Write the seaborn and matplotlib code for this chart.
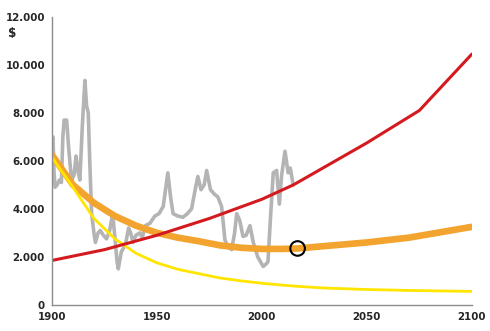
import matplotlib
matplotlib.use("Agg")
import matplotlib.pyplot as plt
import matplotlib.ticker as mticker
import seaborn as sns

# ---- data ----
hist_years = [1900, 1900.5, 1901, 1901.5, 1902.5, 1903.5, 1904.5, 1905.2, 1905.8, 1907, 1908, 1909.3,
              1910.5, 1911.5, 1912.3, 1913.3, 1914.5, 1915.7, 1916.5, 1917.3, 1918, 1918.9, 1920,
              1920.7, 1922, 1923, 1924.5, 1926, 1927.5, 1928.9, 1930, 1931, 1931.6, 1933, 1935,
              1936.5, 1937.5, 1938.6, 1940, 1941.9, 1943, 1944.5, 1946.7, 1949, 1951, 1953, 1955.2,
              1956.5, 1957.7, 1960, 1962.4, 1964.5, 1966.5, 1968, 1969.5, 1971, 1972.5, 1973.7,
              1975.5, 1977.5, 1979, 1980.8, 1982.4, 1984, 1985.6, 1987, 1988, 1989.5, 1991, 1992.5,
              1994.3, 1995.9, 1998, 2000.6, 2002, 2002.9, 2004, 2005.4, 2007, 2008.3, 2009.4, 2011,
              2012.5, 2013.5, 2014.9]
hist_values = [6800, 7000, 5500, 4900, 5000, 5200, 5100, 7000, 7700, 7700, 6500, 5200,
               5400, 6200, 5600, 5200, 7500, 9350, 8300, 8000, 6000, 3800, 3000,
               2600, 3000, 3100, 2900, 2750, 3100, 3800, 2800, 1800, 1500, 2200, 2500,
               3200, 3000, 2600, 2900, 3000, 2800, 3300, 3400, 3700, 3800, 4100, 5500,
               4500, 3800, 3700, 3650, 3800, 4000, 4700, 5350, 4800, 5000, 5600,
               4800, 4600, 4500, 4100, 2700, 2400, 2300, 3000, 3800, 3500, 2850, 2900,
               3300, 2600, 2000, 1600, 1700, 1800, 3500, 5500, 5600, 4200, 5400, 6400,
               5500, 5700, 5000]

trend_years = [1900, 1910, 1920, 1930, 1940, 1950, 1960, 1970, 1980, 1990, 2000, 2010, 2017,
               2030, 2050, 2070, 2100]
orange_values = [6250, 5000, 4250, 3700, 3300, 3000, 2800, 2650, 2480, 2380, 2330, 2330, 2350,
                 2450, 2600, 2800, 3250]
yellow_values = [6150, 4900, 3600, 2750, 2150, 1750, 1480, 1300, 1120, 1000, 900, 820, 770,
                 700, 640, 600, 560]

red_years = [1900, 1925, 1950, 1975, 2000, 2015, 2025, 2050, 2075, 2100]
red_values = [1850, 2300, 2900, 3600, 4400, 5000, 5500, 6750, 8100, 10450]

marker_year = [2017]
marker_value = [2350]

y_ticks = [0, 2000, 4000, 6000, 8000, 10000, 12000]
x_ticks = [1900, 1950, 2000, 2050, 2100]

# ---- plot ----
sns.set_style("white")
plt.rcParams['font.family'] = ['DejaVu Sans']
plt.rcParams['font.stretch'] = 'condensed'

fig = plt.figure(figsize=(4.9, 3.31), dpi=100)
ax = fig.add_axes([0.106, 0.079, 0.857, 0.870])

sns.lineplot(x=hist_years, y=hist_values, ax=ax, color="#b4b4b4", lw=2.6, sort=False)
sns.lineplot(x=trend_years, y=orange_values, ax=ax, color="#f2a42e", lw=4.8)
sns.lineplot(x=trend_years, y=yellow_values, ax=ax, color="#ffe500", lw=2.0)
sns.lineplot(x=red_years, y=red_values, ax=ax, color="#d51a1f", lw=2.2)
sns.scatterplot(x=marker_year, y=marker_value, ax=ax, s=110, marker="o",
                facecolor="none", edgecolor="black", linewidth=1.5, zorder=5)

ax.set_xlim(1900, 2100)
ax.set_ylim(0, 12000)
ax.set_xticks(x_ticks)
ax.set_yticks(y_ticks)
ax.yaxis.set_major_formatter(mticker.FuncFormatter(lambda v, p: f"{int(v):,}".replace(",", ".")))
for s in ["top", "right"]:
    ax.spines[s].set_visible(False)
for s in ["left", "bottom"]:
    ax.spines[s].set_color("#8c8c8c")
    ax.spines[s].set_linewidth(1.0)
ax.tick_params(axis="both", which="major", length=3, width=0.8, color="#8c8c8c",
               labelsize=8.2, pad=2)
for lab in ax.get_xticklabels() + ax.get_yticklabels():
    lab.set_fontweight("bold")
    lab.set_fontstretch("condensed")
ax.set_xlabel("")
ax.set_ylabel("")
ax.grid(False)

fig.text(8 / 490, 1 - 33 / 331, "$", fontsize=9.5, fontweight="bold", va="center", ha="left")

fig.savefig("out.png", dpi=100)
